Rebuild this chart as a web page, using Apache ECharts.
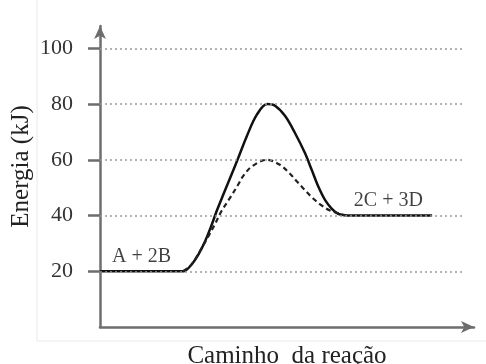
<!DOCTYPE html>
<html>
<head>
<meta charset="utf-8">
<script src="https://cdn.jsdelivr.net/npm/echarts@6/dist/echarts.min.js"></script>
<style>
  html, body { margin: 0; padding: 0; background: #fff; }
  #chart { width: 486px; height: 364px; }
</style>
</head>
<body>
<div id="chart"></div>
<script>
// caminho da reação (eixo x sem escala) x energia em kJ
const solidPath = [
  [0, 20], [20, 20], [22.3, 20], [24.1, 21.8], [26.3, 26], [28.1, 30.8], [29.9, 36.8],
  [31.2, 41.6], [33, 47.6], [35.2, 54.8], [37, 60.8], [39.2, 68.3], [41.9, 76.1],
  [44.7, 80], [46.8, 79.4], [49.5, 75.7], [52.1, 69.7], [54.8, 62.4], [56.6, 56.4],
  [58.4, 50.3], [60.2, 45.5], [62, 42.4], [63.7, 40.6], [65.5, 40.1], [66.8, 40],
  [70, 40], [88.8, 40]
]
const dashedPath = [
  [22.2, 20], [24.5, 22.4], [26.7, 27.2], [28.5, 31.4], [30.7, 36.8], [32.5, 41.6],
  [34.8, 46.4], [37, 51.2], [38.3, 54.2], [40.6, 57.6], [44.7, 60], [48.1, 58.2],
  [50.8, 55], [52.6, 52.3], [54.8, 49.1], [57, 46.1], [59.3, 43.6], [61.5, 41.8],
  [64.2, 40.6], [65.5, 40]
]
const yTicks = [20, 40, 60, 80, 100]
const gridEnd = 97.6
const speciesLabels = [
  [11.1, 25.1, 'A + 2B'],
  [77.1, 45.2, '2C + 3D']
]

const chart = echarts.init(document.getElementById('chart'))

const axisColor = '#6e6e6e'
const serif = 'Liberation Serif'

const option = {
  animation: false,
  grid: { left: 100, right: 12, top: 26, bottom: 37, outerBoundsMode: 'none' },
  graphic: [
    { type: 'line', shape: { x1: 37, y1: 0, x2: 37, y2: 341 }, style: { stroke: '#e8e8e8', lineWidth: 1 } },
    { type: 'line', shape: { x1: 37, y1: 341, x2: 486, y2: 341 }, style: { stroke: '#e8e8e8', lineWidth: 1 } }
  ],
  xAxis: {
    type: 'value',
    min: 0,
    max: 100,
    name: 'Caminho  da reação',
    nameLocation: 'middle',
    nameGap: 17,
    nameMoveOverlap: false,
    nameTextStyle: { fontFamily: serif, fontSize: 25, color: '#222' },
    axisLine: {
      lineStyle: { color: axisColor, width: 2.5 },
      symbol: ['none', 'arrow'],
      symbolSize: [9, 13]
    },
    axisTick: { show: false },
    axisLabel: { show: false },
    splitLine: { show: false }
  },
  yAxis: {
    type: 'value',
    min: 0,
    max: 108,
    name: 'Energia (kJ)',
    nameLocation: 'middle',
    nameGap: 66,
    nameMoveOverlap: false,
    nameTextStyle: { fontFamily: serif, fontSize: 25, color: '#222', padding: [0, 0, 0, 20] },
    axisLine: {
      show: true,
      lineStyle: { color: axisColor, width: 2.5 },
      symbol: ['none', 'arrow'],
      symbolSize: [9, 13]
    },
    axisTick: {
      show: true,
      length: 12,
      customValues: yTicks,
      lineStyle: { color: axisColor, width: 2.5 }
    },
    axisLabel: {
      customValues: yTicks,
      margin: 27,
      fontFamily: serif,
      fontSize: 22,
      color: '#333'
    },
    splitLine: { show: false }
  },
  series: [
    {
      name: 'grade',
      type: 'line',
      data: [],
      silent: true,
      markLine: {
        silent: true,
        symbol: 'none',
        label: { show: false },
        lineStyle: { color: '#9a9a9a', type: [2, 3], width: 1.5 },
        data: yTicks.map(v => [{ coord: [0, v] }, { coord: [gridEnd, v] }])
      }
    },
    {
      name: 'sem catalisador',
      type: 'line',
      data: solidPath,
      smooth: 0.35,
      showSymbol: false,
      lineStyle: { color: '#111', width: 2.5 }
    },
    {
      name: 'com catalisador',
      type: 'line',
      data: dashedPath,
      smooth: 0.35,
      showSymbol: false,
      lineStyle: { color: '#222', width: 2.2, type: [5, 3.5] }
    },
    {
      name: 'rótulos',
      type: 'scatter',
      data: speciesLabels,
      symbolSize: 0,
      silent: true,
      label: {
        show: true,
        position: 'inside',
        formatter: p => p.value[2],
        fontFamily: serif,
        fontSize: 20,
        color: '#111'
      }
    }
  ]
}

chart.setOption(option)
window.addEventListener('resize', () => chart.resize())
</script>
</body>
</html>
